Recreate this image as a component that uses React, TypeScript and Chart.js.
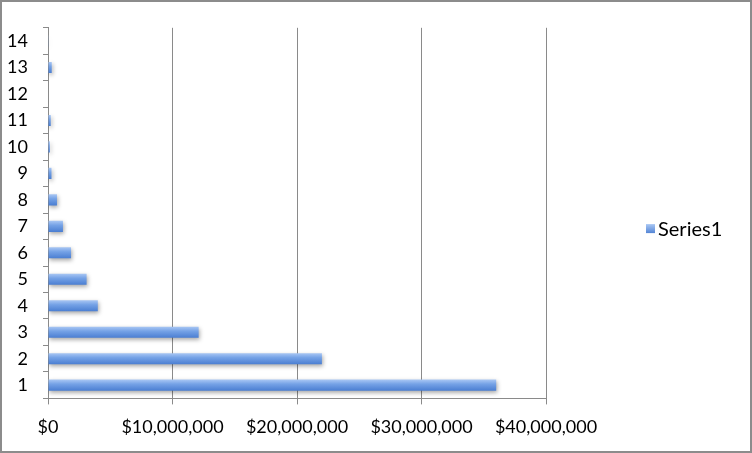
import React, { useEffect, useRef } from "react";
import { Chart, registerables } from "chart.js";

Chart.register(...registerables);

const categories = ["1", "2", "3", "4", "5", "6", "7", "8", "9", "10", "11", "12", "13", "14"];
const series1 = [36000000, 22000000, 12100000, 4000000, 3100000, 1850000, 1200000, 720000, 280000, 150000, 220000, 0, 300000, 50000];
const seriesName = "Series1";
const xMax = 40000000;
const xStep = 10000000;

const FONT = "Lato, 'Open Sans', sans-serif";
const BAR_PCT = 0.42;

export default function App() {
  const ref = useRef<HTMLCanvasElement>(null);
  useEffect(() => {
    document.body.style.margin = "0";
    const canvas = ref.current!;
    const barFill = (ctx: any) => {
      const chart = ctx.chart;
      const y = chart.scales && chart.scales.y;
      if (ctx.type !== "data" || !y || !chart.chartArea) return "#6f9de3";
      const cy = y.getPixelForValue(ctx.dataIndex);
      const h = (chart.chartArea.height / categories.length) * BAR_PCT;
      const g = chart.ctx.createLinearGradient(0, cy - h / 2, 0, cy + h / 2);
      g.addColorStop(0, "#a9c7f4");
      g.addColorStop(0.4, "#75a2e6");
      g.addColorStop(1, "#4a7ed2");
      return g;
    };
    const shadow = {
      id: "barShadow",
      beforeDatasetDraw(chart: any) {
        const c = chart.ctx;
        c.save();
        c.shadowColor = "rgba(0,0,0,0.35)";
        c.shadowBlur = 4;
        c.shadowOffsetX = 1;
        c.shadowOffsetY = 2;
      },
      afterDatasetDraw(chart: any) {
        chart.ctx.restore();
      },
    };
    const sideLegend = {
      id: "sideLegend",
      afterDraw(chart: any) {
        const c = chart.ctx;
        const area = chart.chartArea;
        const x = area.right + 100;
        const cy = (area.top + area.bottom) / 2 + 16;
        c.save();
        const g = c.createLinearGradient(0, cy - 5, 0, cy + 5);
        g.addColorStop(0, "#a9c7f4");
        g.addColorStop(1, "#4a7ed2");
        c.fillStyle = g;
        c.fillRect(x, cy - 5, 9, 9);
        c.fillStyle = "#000";
        c.font = "20px " + FONT;
        c.textBaseline = "middle";
        c.textAlign = "left";
        c.fillText(chart.data.datasets[0].label, x + 12, cy);
        c.restore();
      },
    };
    const chart = new Chart(canvas, {
      type: "bar",
      data: {
        labels: categories,
        datasets: [
          {
            label: seriesName,
            data: series1,
            backgroundColor: barFill,
            borderWidth: 0,
            barPercentage: BAR_PCT,
            categoryPercentage: 1,
          },
        ],
      },
      plugins: [shadow, sideLegend],
      options: {
        indexAxis: "y",
        animation: false,
        responsive: false,
        layout: { padding: { left: 0, top: 25, right: 204, bottom: 1 } },
        scales: {
          x: {
            min: 0,
            max: xMax,
            ticks: {
              stepSize: xStep,
              color: "#000",
              font: { family: FONT, size: 18 },
              padding: 12,
              maxRotation: 0,
              callback: (v: any) => "$" + Number(v).toLocaleString("en-US"),
            },
            grid: {
              color: "#8a8a8a",
              lineWidth: 1,
              tickLength: 6,
              drawTicks: true,
            },
            border: { color: "#8a8a8a", width: 1 },
          },
          y: {
            reverse: true,
            afterFit: (scale: any) => {
              scale.width = 46;
            },
            ticks: {
              color: "#000",
              font: { family: FONT, size: 18 },
              padding: 15,
            },
            grid: {
              offset: true,
              drawOnChartArea: false,
              color: "#8a8a8a",
              tickLength: 5,
            },
            border: { color: "#8a8a8a", width: 1 },
          },
        },
        plugins: {
          legend: { display: false },
          tooltip: { enabled: false },
        },
      },
    });
    return () => chart.destroy();
  }, []);
  return (
    <div
      style={{
        position: "absolute",
        left: 0,
        top: 0,
        width: 752,
        height: 453,
        boxSizing: "border-box",
        border: "2px solid #8c8c8c",
        background: "#fff",
      }}
    >
      <canvas ref={ref} width={748} height={449} style={{ display: "block" }} />
    </div>
  );
}
